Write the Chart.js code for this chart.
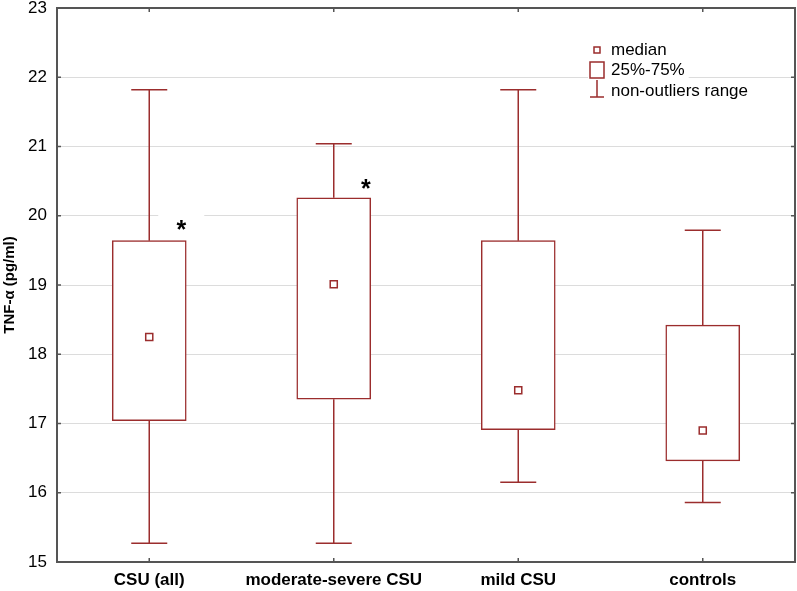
<!DOCTYPE html>
<html lang="en">
<head>
<meta charset="UTF-8">
<title>TNF-α box plot</title>
<script src="https://cdn.jsdelivr.net/npm/chart.js"></script>
<style>
  html,body{margin:0;padding:0;background:#fff;overflow:hidden}
  #chart{display:block}
</style>
</head>
<body>
<canvas id="chart" width="797" height="591"></canvas>
<script>
// ---- data ----
const categories  = ['CSU (all)', 'moderate-severe CSU', 'mild CSU', 'controls'];
const whiskerLow  = [15.27, 15.27, 16.15, 15.86];
const q1          = [17.04, 17.35, 16.91, 16.46];
const medians     = [18.25, 19.01, 17.48, 16.90];
const q3          = [19.64, 20.26, 19.64, 18.42];
const whiskerHigh = [21.82, 21.04, 21.82, 19.79];
const sigMarks    = [19.89, 20.48, null, null];   // level of the "*" marks
const yTicks      = [15, 16, 17, 18, 19, 20, 21, 22, 23];
const legendItems = ['median', '25%-75%', 'non-outliers range'];

const RED = '#9b2d2d';
const FRAME = '#555';

// whiskers, stars, legend and the frame
const boxExtras = {
  id: 'boxExtras',
  beforeDatasetsDraw(chart) {
    const {ctx, chartArea: ca, scales: {x, y}} = chart;
    ctx.save();

    // stars
    ctx.font = 'bold 25px Arial';
    ctx.textAlign = 'center';
    ctx.textBaseline = 'alphabetic';
    sigMarks.forEach((v, i) => {
      if (v == null) return;
      const px = x.getPixelForValue(i) + 32, py = y.getPixelForValue(v);
      ctx.fillStyle = '#fff';
      ctx.fillRect(px - 23, py - 13, 46, 26);
      ctx.fillStyle = '#000';
      ctx.fillText('*', px, py + 0.57 * 25);
    });

    // whiskers
    ctx.strokeStyle = RED;
    ctx.lineWidth = 1.5;
    categories.forEach((c, i) => {
      const px = x.getPixelForValue(i);
      const lo = y.getPixelForValue(whiskerLow[i]), hi = y.getPixelForValue(whiskerHigh[i]);
      const b = y.getPixelForValue(q1[i]), t = y.getPixelForValue(q3[i]);
      ctx.beginPath();
      ctx.moveTo(px, hi); ctx.lineTo(px, t);
      ctx.moveTo(px, b); ctx.lineTo(px, lo);
      ctx.moveTo(px - 18, hi); ctx.lineTo(px + 18, hi);
      ctx.moveTo(px - 18, lo); ctx.lineTo(px + 18, lo);
      ctx.stroke();
    });

    // legend
    const x0 = ca.right - 205;
    const rows = [ca.top + 42, ca.top + 62, ca.top + 83];
    ctx.font = '17px Arial';
    ctx.textAlign = 'left';
    ctx.textBaseline = 'middle';
    legendItems.forEach((txt, i) => {
      const ry = rows[i];
      const w = ctx.measureText(txt).width;
      ctx.fillStyle = '#fff';
      ctx.fillRect(x0 - 2, ry - 10, w + 27, 20);
      ctx.strokeStyle = RED;
      ctx.lineWidth = 1.5;
      ctx.beginPath();
      if (i === 0) {
        ctx.rect(x0 + 4, ry - 3, 6, 6);
      } else if (i === 1) {
        ctx.rect(x0, ry - 8, 14, 16);
      } else {
        ctx.moveTo(x0 + 7, ry - 11); ctx.lineTo(x0 + 7, ry + 6);
        ctx.moveTo(x0, ry + 6); ctx.lineTo(x0 + 14, ry + 6);
      }
      ctx.stroke();
      ctx.fillStyle = '#000';
      ctx.fillText(txt, x0 + 21, ry);
    });
    ctx.restore();
  },
  afterDraw(chart) {
    const {ctx, chartArea: ca, scales: {x, y}} = chart;
    ctx.save();
    ctx.strokeStyle = FRAME;
    ctx.lineWidth = 2;
    ctx.strokeRect(ca.left, ca.top, ca.right - ca.left, ca.bottom - ca.top);
    ctx.lineWidth = 1.5;
    ctx.beginPath();
    yTicks.forEach(v => {
      const py = y.getPixelForValue(v);
      ctx.moveTo(ca.left, py); ctx.lineTo(ca.left + 4, py);
      ctx.moveTo(ca.right, py); ctx.lineTo(ca.right - 4, py);
    });
    categories.forEach((c, i) => {
      const px = x.getPixelForValue(i);
      ctx.moveTo(px, ca.top); ctx.lineTo(px, ca.top + 4);
      ctx.moveTo(px, ca.bottom); ctx.lineTo(px, ca.bottom - 4);
    });
    ctx.stroke();
    ctx.restore();
  }
};

new Chart(document.getElementById('chart'), {
  data: {
    labels: categories,
    datasets: [
      { type: 'line', label: 'median', data: medians, showLine: false,
        pointStyle: 'rect', pointRadius: 5, pointHoverRadius: 5,
        pointBackgroundColor: '#fff', pointBorderColor: RED, pointBorderWidth: 1.5, order: 0 },
      { type: 'bar', label: '25%-75%', data: q1.map((v, i) => [v, q3[i]]),
        backgroundColor: '#fff', borderColor: RED, borderWidth: 1.5,
        borderSkipped: false, barThickness: 74, order: 1 }
    ]
  },
  options: {
    responsive: false, animation: false,
    layout: { autoPadding: false, padding: { top: 8, right: 2, left: 0, bottom: 0 } },
    plugins: { legend: { display: false }, tooltip: { enabled: false } },
    scales: {
      x: {
        grid: { display: false }, border: { display: false },
        ticks: { color: '#000', font: { family: 'Arial', size: 17, weight: 'bold' },
                 padding: 0, maxRotation: 0, autoSkip: false },
        afterFit: s => { s.height = 29; s.paddingLeft = 0; s.paddingRight = 0; }
      },
      y: {
        min: 15, max: 23,
        afterBuildTicks: s => { s.ticks = yTicks.map(v => ({ value: v })); },
        ticks: { color: '#000', font: { family: 'Arial', size: 17 }, padding: 10 },
        grid: { color: c => (c.tick.value === 15 || c.tick.value === 23) ? 'rgba(0,0,0,0)' : '#dcdcdc',
                drawTicks: false, lineWidth: 1 },
        border: { display: false },
        title: { display: true, text: 'TNF-α (pg/ml)', color: '#000',
                 font: { family: 'Arial', size: 15, weight: 'bold' }, padding: { top: 1, bottom: 0 } },
        afterFit: s => { s.width = 57; s.paddingTop = 0; s.paddingBottom = 0; }
      }
    }
  },
  plugins: [boxExtras]
});
</script>
</body>
</html>
